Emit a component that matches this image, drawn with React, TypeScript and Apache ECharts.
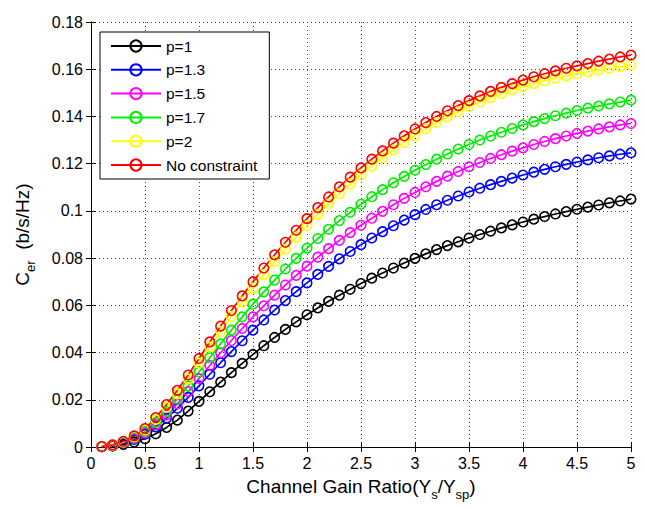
import React, { useEffect, useRef } from "react";
import * as echarts from "echarts";

const xs = [
  0.1, 0.2, 0.3, 0.4, 0.5, 0.6, 0.7, 0.8, 0.9, 1.0,
  1.1, 1.2, 1.3, 1.4, 1.5, 1.6, 1.7, 1.8, 1.9, 2.0,
  2.1, 2.2, 2.3, 2.4, 2.5, 2.6, 2.7, 2.8, 2.9, 3.0,
  3.1, 3.2, 3.3, 3.4, 3.5, 3.6, 3.7, 3.8, 3.9, 4.0,
  4.1, 4.2, 4.3, 4.4, 4.5, 4.6, 4.7, 4.8, 4.9, 5.0,
];

const p1 = [
  0.0001, 0.0004, 0.0011, 0.0021, 0.0035, 0.0056, 0.0083, 0.0114, 0.0152, 0.0193,
  0.0234, 0.0275, 0.0315, 0.0354, 0.0392, 0.0429, 0.0464, 0.0498, 0.0530, 0.0560,
  0.0589, 0.0617, 0.0643, 0.0668, 0.0692, 0.0715, 0.0737, 0.0758, 0.0779, 0.0799,
  0.0818, 0.0836, 0.0853, 0.0869, 0.0885, 0.0900, 0.0914, 0.0928, 0.0941, 0.0953,
  0.0965, 0.0976, 0.0987, 0.0997, 0.1007, 0.1016, 0.1025, 0.1034, 0.1042, 0.1050,
];

const p13 = [
  0.0001, 0.0006, 0.0016, 0.0032, 0.0054, 0.0085, 0.0122, 0.0164, 0.0210, 0.0259,
  0.0308, 0.0357, 0.0404, 0.0450, 0.0495, 0.0538, 0.0580, 0.0620, 0.0658, 0.0695,
  0.0731, 0.0765, 0.0797, 0.0828, 0.0857, 0.0885, 0.0912, 0.0937, 0.0961, 0.0984,
  0.1006, 0.1026, 0.1045, 0.1063, 0.1080, 0.1096, 0.1111, 0.1125, 0.1139, 0.1152,
  0.1164, 0.1176, 0.1187, 0.1197, 0.1207, 0.1216, 0.1225, 0.1233, 0.1240, 0.1246,
];

const p15 = [
  0.0002, 0.0007, 0.0018, 0.0036, 0.0060, 0.0094, 0.0136, 0.0183, 0.0235, 0.0290,
  0.0345, 0.0399, 0.0451, 0.0502, 0.0551, 0.0598, 0.0643, 0.0686, 0.0727, 0.0766,
  0.0804, 0.0840, 0.0875, 0.0908, 0.0939, 0.0969, 0.0998, 0.1026, 0.1053, 0.1078,
  0.1102, 0.1125, 0.1147, 0.1167, 0.1187, 0.1205, 0.1222, 0.1238, 0.1253, 0.1267,
  0.1281, 0.1294, 0.1306, 0.1317, 0.1328, 0.1338, 0.1347, 0.1356, 0.1364, 0.1370,
];

const p17 = [
  0.0002, 0.0008, 0.0020, 0.0040, 0.0066, 0.0104, 0.0150, 0.0202, 0.0258, 0.0318,
  0.0378, 0.0437, 0.0495, 0.0551, 0.0605, 0.0657, 0.0707, 0.0754, 0.0799, 0.0842,
  0.0883, 0.0922, 0.0959, 0.0994, 0.1028, 0.1060, 0.1090, 0.1119, 0.1146, 0.1172,
  0.1196, 0.1219, 0.1241, 0.1262, 0.1281, 0.1300, 0.1317, 0.1333, 0.1349, 0.1364,
  0.1378, 0.1391, 0.1403, 0.1414, 0.1425, 0.1435, 0.1444, 0.1453, 0.1461, 0.1469,
];

const p2 = [
  0.0002, 0.0008, 0.0022, 0.0044, 0.0073, 0.0117, 0.0168, 0.0225, 0.0288, 0.0355,
  0.0423, 0.0489, 0.0553, 0.0614, 0.0673, 0.0730, 0.0785, 0.0838, 0.0889, 0.0938,
  0.0985, 0.1030, 0.1073, 0.1114, 0.1153, 0.1190, 0.1225, 0.1258, 0.1290, 0.1320,
  0.1348, 0.1374, 0.1398, 0.1420, 0.1441, 0.1461, 0.1479, 0.1496, 0.1512, 0.1526,
  0.1539, 0.1551, 0.1562, 0.1572, 0.1581, 0.1589, 0.1597, 0.1604, 0.1611, 0.1618,
];

const noConstraint = [
  0.0002, 0.0009, 0.0024, 0.0047, 0.0078, 0.0125, 0.0180, 0.0240, 0.0305, 0.0375,
  0.0445, 0.0512, 0.0578, 0.0640, 0.0700, 0.0758, 0.0814, 0.0867, 0.0918, 0.0967,
  0.1014, 0.1059, 0.1102, 0.1143, 0.1182, 0.1219, 0.1254, 0.1287, 0.1318, 0.1347,
  0.1374, 0.1400, 0.1424, 0.1446, 0.1467, 0.1487, 0.1506, 0.1523, 0.1539, 0.1554,
  0.1568, 0.1581, 0.1593, 0.1604, 0.1614, 0.1624, 0.1634, 0.1643, 0.1652, 0.1660,
];

const seriesNames = ["p=1", "p=1.3", "p=1.5", "p=1.7", "p=2", "No constraint"];
const seriesColors = ["#000000", "#0000ff", "#ff00ff", "#00ee00", "#ffff00", "#ff0000"];
const seriesValues = [p1, p13, p15, p17, p2, noConstraint];

const xTickLabels = ["0", "0.5", "1", "1.5", "2", "2.5", "3", "3.5", "4", "4.5", "5"];
const yTickLabels = ["0", "0.02", "0.04", "0.06", "0.08", "0.1", "0.12", "0.14", "0.16", "0.18"];

const FONT = "Liberation Sans, Arial, Helvetica, sans-serif";

export default function App() {
  const ref = useRef<HTMLDivElement>(null);

  useEffect(() => {
    document.body.style.margin = "0";
    if (!ref.current) return;
    const chart = echarts.init(ref.current, null, { renderer: "svg" });

    const tickStyle = { show: true, inside: true, length: 5, lineStyle: { color: "#000", width: 1 } };
    const axisLine = { show: true, lineStyle: { color: "#000", width: 1 } };
    const splitLine = { show: true, lineStyle: { color: "#444", width: 1, type: [1, 3] as any } };

    const nameRich = {
      a: { fontFamily: FONT, fontSize: 19, color: "#000", lineHeight: 22, verticalAlign: "top" },
      s: { fontFamily: FONT, fontSize: 13, color: "#000", lineHeight: 24, verticalAlign: "bottom" },
    };

    const option: any = {
      animation: false,
      backgroundColor: "#fff",
      grid: { left: 91, right: 14, top: 22, bottom: 62, containLabel: false },
      legend: {
        left: 100,
        top: 32,
        orient: "vertical",
        data: seriesNames,
        itemWidth: 50,
        itemHeight: 14,
        itemGap: 7.8,
        padding: [6, 12, 6, 10],
        borderColor: "#000",
        borderWidth: 1,
        backgroundColor: "#fff",
        textStyle: { fontFamily: FONT, fontSize: 15.5, color: "#000" },
      },
      xAxis: [
        {
          type: "value",
          min: 0,
          max: 5,
          interval: 0.5,
          axisLine,
          axisTick: tickStyle,
          splitLine,
          axisLabel: {
            fontFamily: FONT,
            fontSize: 16,
            color: "#000",
            margin: 8,
            formatter: (v: number) => xTickLabels[Math.round(v / 0.5)] ?? "",
          },
          name: "{a|Channel Gain Ratio(Y}{s|s}{a|/Y}{s|sp}{a|)}",
          nameLocation: "middle",
          nameGap: 30,
          nameTextStyle: { fontFamily: FONT, rich: nameRich },
        },
        {
          type: "value",
          position: "top",
          min: 0,
          max: 5,
          interval: 0.5,
          axisLine,
          axisTick: tickStyle,
          splitLine: { show: false },
          axisLabel: { show: false },
        },
      ],
      yAxis: [
        {
          type: "value",
          min: 0,
          max: 0.18,
          interval: 0.02,
          axisLine,
          axisTick: tickStyle,
          splitLine,
          axisLabel: {
            fontFamily: FONT,
            fontSize: 16,
            color: "#000",
            margin: 8,
            formatter: (v: number) => yTickLabels[Math.round(v / 0.02)] ?? "",
          },
          name: "{a|C}{s|er}{a|  (b/s/Hz)}",
          nameLocation: "middle",
          nameGap: 54,
          nameRotate: 90,
          nameTextStyle: { fontFamily: FONT, rich: nameRich },
        },
        {
          type: "value",
          position: "right",
          min: 0,
          max: 0.18,
          interval: 0.02,
          axisLine,
          axisTick: tickStyle,
          splitLine: { show: false },
          axisLabel: { show: false },
        },
      ],
      series: seriesNames.map((name, i) => ({
        name,
        type: "line",
        xAxisIndex: 0,
        yAxisIndex: 0,
        data: xs.map((x, j) => [x, seriesValues[i][j]]),
        symbol: "circle",
        symbolSize: 9.5,
        showSymbol: true,
        color: seriesColors[i],
        lineStyle: { color: seriesColors[i], width: 1.7 },
        itemStyle: { color: "rgba(255,255,255,0)", borderColor: seriesColors[i], borderWidth: 1.6 },
        emphasis: { disabled: true },
      })),
    };

    chart.setOption(option);
    return () => chart.dispose();
  }, []);

  return <div ref={ref} style={{ width: 645, height: 509 }} />;
}
